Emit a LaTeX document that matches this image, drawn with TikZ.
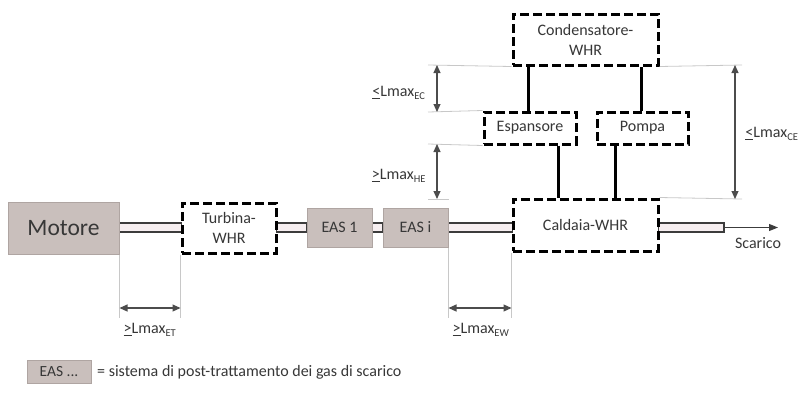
\documentclass[tikz,border=0pt]{standalone}
\usepackage{fontspec}
\setmainfont{Carlito}
\usetikzlibrary{arrows.meta,calc}
\definecolor{easfill}{RGB}{201,191,188}
\definecolor{easdraw}{RGB}{175,165,162}
\definecolor{pipefill}{RGB}{246,238,240}
\definecolor{pipedraw}{RGB}{60,60,60}
\definecolor{dimgray}{RGB}{200,200,200}
\definecolor{txt}{RGB}{55,55,55}
\tikzset{
  eas/.style={draw=easdraw, fill=easfill, line width=1pt, inner sep=0pt, text=txt, font=\fontsize{16}{18}\selectfont},
  whr/.style={draw=black, fill=white, line width=3pt, dash pattern=on 9pt off 4pt, inner sep=0pt, text=txt, align=center, font=\fontsize{16}{20}\selectfont},
  pipe/.style={draw=pipedraw, fill=pipefill, line width=1.1pt},
  link/.style={draw=black, line width=3pt},
  dimline/.style={draw=dimgray, line width=0.8pt},
  dimarrow/.style={draw=black!70, line width=1.1pt, {Triangle[length=8pt,width=7pt]}-{Triangle[length=8pt,width=7pt]}},
  lbl/.style={text=txt, font=\fontsize{16}{18}\selectfont, inner sep=0pt},
}
\newcommand{\lmaxlabel}[2]{\underline{#1}Lmax\textsubscript{\fontsize{10.5}{11}\selectfont #2}}
\begin{document}
\begin{tikzpicture}[x=1pt,y=-1pt]
\useasboundingbox (0,0) rectangle (800,394);

% node positions
\coordinate (motpos) at (63.5,228);
\coordinate (turbpos) at (229,228);
\coordinate (eas1pos) at (339.5,227.5);
\coordinate (easipos) at (415.5,227.5);

% pipes (drawn first, boxes cover their ends)
\draw[pipe] (119,223) rectangle (182,232);
\draw[pipe] (276,223) rectangle (307,232);
\draw[pipe] (372,223) rectangle (383,232);
\draw[pipe] (448,223) rectangle (513,232);
\draw[pipe] (658,223) rectangle (724,232);
\coordinate (pipeend) at (724,227.5);
\coordinate (out) at (778,227.5);
\draw[pipedraw, line width=1pt, -{Triangle[length=9pt,width=7pt]}] (pipeend) -- (out);

% EAS boxes
\node[eas, minimum width=111pt, minimum height=52pt, font=\fontsize{23.5}{26}\selectfont] (motore) at (motpos) {Motore};
\node[eas, minimum width=65pt, minimum height=39pt] (eas1) at (eas1pos) {EAS 1};
\node[eas, minimum width=65pt, minimum height=39pt] (easi) at (easipos) {EAS i};

% WHR boxes
\node[whr, minimum width=94pt, minimum height=50pt] (turbina) at (turbpos) {Turbina-\\WHR};
\node[whr, minimum width=145pt, minimum height=52pt] (caldaia) at (585.5,225) {Caldaia-WHR};
\node[whr, minimum width=145pt, minimum height=51pt] (cond) at (585.5,39.5) {Condensatore-\\WHR};
\node[whr, minimum width=92pt, minimum height=32pt] (esp) at (530,128) {Espansore};
\node[whr, minimum width=91pt, minimum height=32pt] (pompa) at (642.5,128) {Pompa};

\node[lbl] (scarico) at (758,243) {Scarico};

% thick connections
\draw[link] ([xshift=-2pt]esp.north) -- ([xshift=-2pt]esp.north |- cond.south);
\draw[link] ([xshift=-1.5pt]pompa.north) -- ([xshift=-1.5pt]pompa.north |- cond.south);
\draw[link] ([xshift=28pt]esp.south) -- ([xshift=28pt]esp.south |- caldaia.north);
\draw[link] ([xshift=-27.5pt]pompa.south) -- ([xshift=-27.5pt]pompa.south |- caldaia.north);

% dimension reference lines
\coordinate (d65l) at (428,65);   \coordinate (d65r) at (742,65);
\coordinate (d199l) at (428,199); \coordinate (d199r) at (742,199);
\draw[dimline] (d65l) -- (cond.south west);
\draw[dimline] (cond.south east) -- (d65r);
\draw[dimline] (d199l) -- (easi.north east |- d199l);
\draw[dimline] (caldaia.north east) -- (d199r);
\draw[dimline] (428,112) -- (esp.north west);
\draw[dimline] (428,144) -- (esp.south west);
\draw[dimline] (motore.south east) -- (motore.east |- 0,318);
\draw[dimline] (turbina.south west) -- (turbina.west |- 0,318);
\draw[dimline] (easi.south east) -- (easi.east |- 0,318);
\draw[dimline] (caldaia.south west) -- (caldaia.west |- 0,318);

% dimension arrows
\draw[dimarrow] (437,65) -- (437,112);
\draw[dimarrow] (437,144) -- (437,199);
\draw[dimarrow] (735,65) -- (735,199);
\draw[dimarrow] (motore.east |- 0,308) -- (turbina.west |- 0,308);
\draw[dimarrow] (easi.east |- 0,308) -- (caldaia.west |- 0,308);

% dimension labels
\node[lbl] (lec) at (399,93) {\lmaxlabel{<}{EC}};
\node[lbl] (lhe) at (399,176) {\lmaxlabel{>}{HE}};
\node[lbl] (lce) at (772,134) {\lmaxlabel{<}{CE}};
\node[lbl] (let) at (150,330) {\lmaxlabel{>}{ET}};
\node[lbl] (lew) at (481,330) {\lmaxlabel{>}{EW}};

% legend
\node[eas, minimum width=64pt, minimum height=23pt, font=\fontsize{15.5}{17}\selectfont] (legbox) at (59,371.5) {EAS ...};
\node[lbl, anchor=west] (legtxt) at (97,372.5) {= sistema di post-trattamento dei gas di scarico};
\end{tikzpicture}
\end{document}
